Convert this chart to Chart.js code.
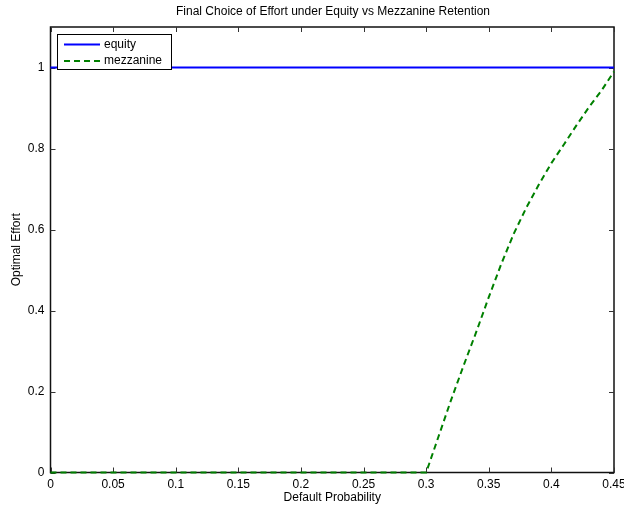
<!DOCTYPE html>
<html><head><meta charset="utf-8">
<script src="https://cdn.jsdelivr.net/npm/chart.js@4/dist/chart.umd.min.js"></script>
<style>html,body{margin:0;padding:0;background:#fff}#wrap{width:624px;height:506px}</style>
</head><body><div id="wrap"><canvas id="c" width="624" height="506"></canvas></div>
<script>
const titleText = "Final Choice of Effort under Equity vs Mezzanine Retention";
const xTitle = "Default Probability";
const yTitle = "Optimal Effort";
const equityX = [0, 0.45];
const equityY = [1, 1];
const mezzX = [0, 0.05, 0.10, 0.15, 0.20, 0.25, 0.30, 0.31, 0.32, 0.33, 0.34, 0.35, 0.36, 0.37, 0.38, 0.39, 0.40, 0.41, 0.42, 0.43, 0.44, 0.45];
const mezzY = [0, 0, 0, 0, 0, 0, 0, 0.09, 0.18, 0.265, 0.347, 0.433, 0.515, 0.59, 0.654, 0.711, 0.764, 0.81, 0.857, 0.902, 0.943, 0.99];
const xTicks = [0, 0.05, 0.1, 0.15, 0.2, 0.25, 0.3, 0.35, 0.4, 0.45];
const yTicks = [0, 0.2, 0.4, 0.6, 0.8, 1];
const FONT = "'Liberation Sans', Arial, Helvetica, sans-serif";

const framePlugin = {
  id: 'frame',
  beforeDatasetsDraw(chart) {
    const ctx = chart.ctx, a = chart.chartArea;
    const xs = chart.scales.x, ys = chart.scales.y;
    ctx.save();
    ctx.strokeStyle = '#111'; ctx.lineWidth = 1.5;
    ctx.strokeRect(a.left, a.top, a.right - a.left, a.bottom - a.top);
    const L = 5;
    ctx.lineWidth = 1;
    ctx.strokeStyle = '#333';
    ctx.beginPath();
    xTicks.forEach(v => {
      const px = Math.round(xs.getPixelForValue(v)) + 0.5;
      ctx.moveTo(px, a.bottom); ctx.lineTo(px, a.bottom - L);
      ctx.moveTo(px, a.top); ctx.lineTo(px, a.top + L);
    });
    yTicks.forEach(v => {
      const py = Math.round(ys.getPixelForValue(v)) + 0.5;
      ctx.moveTo(a.left, py); ctx.lineTo(a.left + L, py);
      ctx.moveTo(a.right, py); ctx.lineTo(a.right - L, py);
    });
    ctx.stroke();
    ctx.restore();
  },
  afterDraw(chart) {
    const ctx = chart.ctx, a = chart.chartArea;
    ctx.save();
    // titles
    ctx.fillStyle = '#000';
    ctx.font = '12px ' + FONT;
    ctx.textAlign = 'center'; ctx.textBaseline = 'middle';
    ctx.fillText(titleText, 333, 12);
    ctx.fillText(xTitle, (a.left + a.right) / 2, 498);
    ctx.save();
    ctx.translate(17, (a.top + a.bottom) / 2);
    ctx.rotate(-Math.PI / 2);
    ctx.fillText(yTitle, 0, 0);
    ctx.restore();
    // legend
    const lx = 57.5, ly = 34.5, lw = 114, lh = 35;
    ctx.fillStyle = '#fff';
    ctx.fillRect(lx, ly, lw, lh);
    ctx.strokeStyle = '#000'; ctx.lineWidth = 1;
    ctx.strokeRect(lx, ly, lw, lh);
    chart.data.datasets.forEach((ds, i) => {
      const y = 44.5 + i * 16.5;
      ctx.beginPath();
      ctx.strokeStyle = ds.borderColor; ctx.lineWidth = 2;
      ctx.setLineDash(ds.borderDash || []);
      ctx.moveTo(64, y); ctx.lineTo(100, y); ctx.stroke();
      ctx.setLineDash([]);
      ctx.fillStyle = '#000';
      ctx.textAlign = 'left'; ctx.textBaseline = 'middle';
      ctx.font = '12px ' + FONT;
      ctx.fillText(ds.label, 104, y);
    });
    ctx.restore();
  }
};

new Chart(document.getElementById('c'), {
  type: 'line',
  data: {
    datasets: [
      { label: 'equity', data: equityX.map((x, i) => ({x, y: equityY[i]})), borderColor: '#0000ff', borderWidth: 2, pointRadius: 0, fill: false, tension: 0, clip: 3 },
      { label: 'mezzanine', data: mezzX.map((x, i) => ({x, y: mezzY[i]})), borderColor: '#008000', borderWidth: 2, borderDash: [6, 4], pointRadius: 0, fill: false, tension: 0, clip: 3 }
    ]
  },
  options: {
    responsive: false, animation: false,
    layout: { padding: { top: 27, right: 10, left: 0, bottom: 0 } },
    plugins: { legend: { display: false }, title: { display: false }, tooltip: { enabled: false } },
    scales: {
      x: {
        type: 'linear', min: 0, max: 0.45,
        grid: { display: false, drawTicks: false },
        border: { display: false },
        afterBuildTicks: s => { s.ticks = xTicks.map(v => ({ value: v })); },
        afterFit: s => { s.height = 33.5; s.paddingRight = 0; s.paddingLeft = 0; },
        ticks: { padding: 5, color: '#000', font: { family: FONT, size: 12 }, maxRotation: 0, autoSkip: false,
          callback: v => String(+v.toFixed(2)) }
      },
      y: {
        type: 'linear', min: 0, max: 1.1,
        grid: { display: false, drawTicks: false },
        border: { display: false },
        afterBuildTicks: s => { s.ticks = yTicks.map(v => ({ value: v })); },
        afterFit: s => { s.width = 50.5; s.paddingTop = 0; s.paddingBottom = 0; },
        ticks: { padding: 6, color: '#000', font: { family: FONT, size: 12 },
          callback: v => String(+v.toFixed(2)) }
      }
    }
  },
  plugins: [framePlugin]
});
</script></body></html>
